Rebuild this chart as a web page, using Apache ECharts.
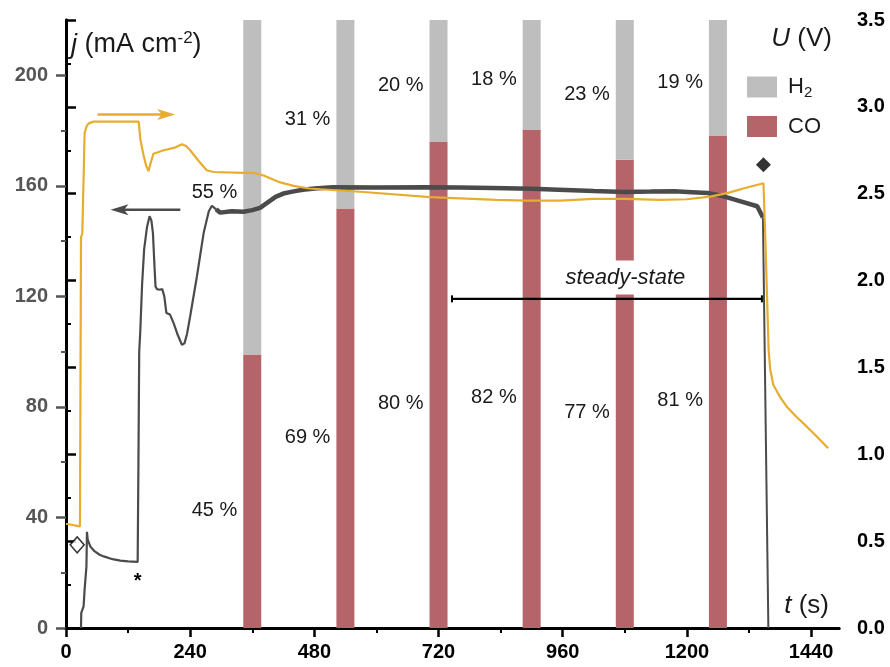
<!DOCTYPE html>
<html><head><meta charset="utf-8">
<script src="https://cdn.jsdelivr.net/npm/echarts@6/dist/echarts.min.js"></script>
<style>html,body{margin:0;padding:0;background:#fff}#c{width:890px;height:667px}</style>
</head><body><div id="c"></div>
<script>
// ---------- data ----------
const timeTicks = [0, 240, 480, 720, 960, 1200, 1440];
const timeMinorTicks = [120, 360, 600, 840, 1080, 1320];
const currentTicks = [0, 40, 80, 120, 160, 200];
const currentMinorTicks = [20, 60, 100, 140, 180];
const barTimes = [360, 540, 720, 900, 1080, 1260];
const coPercent = [45, 69, 80, 82, 77, 81];
const h2Percent = [55, 31, 20, 18, 23, 19];
const currentDensity = [
  [29,0],[29.5,5.5],[34,7.8],[36,14],[39.5,22.3],[40.5,34.8],[42,32],[44,31.3],[47,29.5],[55,27.8],[65,26.5],
  [73,25.9],[90,24.9],[105,24.4],[120,24.1],[138.5,23.9],[140,60],[141.5,100],[143.5,107],[147,124],[151,137],
  [156.5,145],[161.5,149],[165,147.5],[168,143],[171,131],[173,123.6],[176,122.6],[181,122.4],[186,122.6],
  [190,120],[194,114],[201,113.4],[208,110.3],[216,106],[224,102.5],[229,103],[234,106.5],[240,112.8],
  [253,127.2],[266,142.9],[276,150.8],[282,152.8],[290,151.5],[298,150.3],[320,150.8],[343,150.6],[360,151.2],
  [375,152],[390,154],[405,156],[420,157.2],[440,158],[458,158.6],[480,159],[516,159.5],[600,159.4],[696,159.5],
  [760,159.4],[823,159.2],[900,158.9],[952,158.6],[1020,158.1],[1080,157.8],[1130,157.9],[1176,158],[1210,157.7],
  [1240,157.4],[1271,156.2],[1304,154.4],[1336,152.6],[1347,148.5],[1357.5,0]
];
const cellVoltage = [
  [0,0.60],[27,0.585],[28.5,0.585],[29,2.25],[31.5,2.27],[33,2.46],[36,2.85],[40,2.89],[44,2.905],[53,2.915],
  [100,2.915],[140.5,2.915],[143.8,2.81],[150,2.72],[155,2.66],[159.5,2.63],[162,2.66],[166,2.70],[169,2.73],
  [189,2.75],[210,2.765],[224,2.785],[232,2.775],[240,2.75],[256,2.69],[272,2.635],[285,2.625],[343,2.62],
  [362,2.62],[382,2.605],[414,2.565],[440,2.545],[470,2.53],[575,2.51],[704,2.48],[832,2.464],[890,2.46],
  [955,2.46],[1019,2.47],[1080,2.47],[1148,2.464],[1200,2.468],[1245,2.483],[1280,2.505],[1309,2.53],[1348,2.56],
  [1351,2.3],[1355,1.9],[1358,1.6],[1361,1.49],[1367,1.40],[1380,1.33],[1393,1.274],[1412,1.215],[1432,1.159],
  [1452,1.10],[1473,1.035]
];
const openDiamond = [[21.6, 30.1]];
const filledDiamond = [[1348, 167.6]];

// ---------- styling ----------
const FONT = 'Liberation Sans, Arial, sans-serif';
const GOLD = '#E6AD2E';
const DARK = '#4B4B4B';
const AXGRAY = '#555555';
const CO_COLOR = '#B5656A';
const H2_COLOR = '#BEBEBE';
const X_MAX = 1494;
const BAR_W = 18;

const chart = echarts.init(document.getElementById('c'), null, {renderer: 'canvas'});

const tickLabel = (color) => ({fontFamily: FONT, fontSize: 20, fontWeight: 'bold', color: color});

const thin1 = currentDensity.filter(p => p[0] <= 290);
const thick = currentDensity.filter(p => p[0] >= 290 && p[0] <= 1347);
const thin2 = currentDensity.filter(p => p[0] >= 1347);

// stacked selectivity bar segment: value = [t, base, share]
function segment(color, dy) {
  return function (params, api) {
    const t = api.value(0), b = api.value(1), s = api.value(2);
    const p0 = api.coord([t, b]), p1 = api.coord([t, b + s]);
    return {type: 'group', children: [
      {type: 'rect', shape: {x: p0[0] - BAR_W / 2, y: p1[1], width: BAR_W, height: p0[1] - p1[1]}, style: {fill: color}},
      {type: 'text', x: p0[0] - BAR_W / 2 - 6, y: (p0[1] + p1[1]) / 2 + dy,
       style: {text: s + ' %', font: '20px ' + FONT, fill: '#1a1a1a', align: 'right', verticalAlign: 'middle'}}
    ]};
  };
}

const option = {
  animation: false,
  backgroundColor: '#fff',
  grid: {left: 66, right: 51, top: 20, bottom: 39, containLabel: false},
  legend: {
    data: ['H2', 'CO'], orient: 'vertical', left: 747, top: 76, itemWidth: 30, itemHeight: 21, itemGap: 15,
    icon: 'rect', padding: 0,
    formatter: n => n === 'H2' ? 'H{sub|2}' : n,
    textStyle: {fontFamily: FONT, fontSize: 22, color: '#1a1a1a', padding: [0, 0, 0, 6],
      rich: {sub: {fontFamily: FONT, fontSize: 15, color: '#1a1a1a', padding: [12, 0, 0, 0]}}}
  },
  xAxis: [
    {type: 'value', min: 0, max: X_MAX, position: 'bottom', splitLine: {show: false},
     axisLine: {show: true, lineStyle: {color: '#000', width: 3}},
     axisTick: {show: true, customValues: timeMinorTicks, length: 5, lineStyle: {color: '#000', width: 2}},
     axisLabel: {show: true, customValues: timeTicks, margin: 14, formatter: v => String(v), ...tickLabel('#000')}},
    {type: 'value', min: 0, max: X_MAX, position: 'bottom', splitLine: {show: false},
     axisLine: {show: false},
     axisTick: {show: true, customValues: timeTicks, length: 9, lineStyle: {color: '#000', width: 2.5}},
     axisLabel: {show: false}},
    {type: 'value', min: 0, max: X_MAX, position: 'top', splitLine: {show: false},
     axisLine: {show: true, lineStyle: {color: '#000', width: 3}},
     axisTick: {show: false}, axisLabel: {show: false}}
  ],
  yAxis: [
    {type: 'value', min: 0, max: 220, position: 'left', splitLine: {show: false},
     axisLine: {show: true, lineStyle: {color: AXGRAY, width: 3}},
     axisTick: {show: true, customValues: currentMinorTicks, length: 5, lineStyle: {color: AXGRAY, width: 2}},
     axisLabel: {show: true, customValues: currentTicks, margin: 18, formatter: v => String(v), ...tickLabel(AXGRAY)}},
    {type: 'value', min: 0, max: 3.5, interval: 0.5, position: 'right', splitLine: {show: false},
     axisLine: {show: true, lineStyle: {color: '#000', width: 3}},
     axisTick: {show: true, length: 10, lineStyle: {color: '#000', width: 2.5}},
     minorTick: {show: true, splitNumber: 2, length: 5, lineStyle: {color: '#000', width: 2}},
     axisLabel: {show: true, margin: 18, formatter: v => v.toFixed(1), ...tickLabel('#000')}},
    {type: 'value', min: 0, max: 100, show: false},
    {type: 'value', min: 0, max: 220, position: 'left', splitLine: {show: false},
     axisLine: {show: false},
     axisTick: {show: true, customValues: currentTicks, length: 10, lineStyle: {color: AXGRAY, width: 2.5}},
     axisLabel: {show: false}}
  ],
  series: [
    {name: 'CO', type: 'custom', coordinateSystem: 'cartesian2d', xAxisIndex: 0, yAxisIndex: 2, z: 1,
     data: barTimes.map((t, i) => [t, 0, coPercent[i]]), encode: {x: 0, y: 2},
     itemStyle: {color: CO_COLOR}, renderItem: segment(CO_COLOR, 19)},
    {name: 'H2', type: 'custom', coordinateSystem: 'cartesian2d', xAxisIndex: 0, yAxisIndex: 2, z: 1,
     data: barTimes.map((t, i) => [t, coPercent[i], h2Percent[i]]), encode: {x: 0, y: 2},
     itemStyle: {color: H2_COLOR}, renderItem: segment(H2_COLOR, 5)},
    {name: 'j1', type: 'line', xAxisIndex: 0, yAxisIndex: 0, data: thin1, showSymbol: false, z: 3,
     lineStyle: {color: DARK, width: 2.2}},
    {name: 'j2', type: 'line', xAxisIndex: 0, yAxisIndex: 0, data: thick, showSymbol: false, z: 3,
     lineStyle: {color: DARK, width: 4.5}},
    {name: 'j3', type: 'line', xAxisIndex: 0, yAxisIndex: 0, data: thin2, showSymbol: false, z: 3,
     lineStyle: {color: DARK, width: 2}},
    {name: 'U', type: 'line', xAxisIndex: 0, yAxisIndex: 1, data: cellVoltage, showSymbol: false, z: 4,
     lineStyle: {color: GOLD, width: 2.2}},
    {name: 'start', type: 'scatter', xAxisIndex: 0, yAxisIndex: 0, data: openDiamond, symbol: 'diamond',
     symbolSize: [14, 16], z: 5, itemStyle: {color: '#fff', borderColor: '#000', borderWidth: 1.5}},
    {name: 'end', type: 'scatter', xAxisIndex: 0, yAxisIndex: 0, data: filledDiamond, symbol: 'diamond',
     symbolSize: [15, 15], z: 5, itemStyle: {color: '#000'}}
  ]
};
chart.setOption(option);

// ---------- annotations (data coordinates) ----------
const P = (t, j) => chart.convertToPixel({xAxisIndex: 0, yAxisIndex: 0}, [t, j]);
const steadyStart = 746, steadyEnd = 1345, steadyLevel = 119.1;
const steadyTextAt = [1081, 126.8];
const goldArrow = {from: [61, 185.8], to: [211, 185.8]};
const darkArrow = {from: [221, 151.3], to: [86, 151.3]};
const starAt = [138.6, 18.7];

function arrow(a, color) {
  const p0 = P(a.from[0], a.from[1]), p1 = P(a.to[0], a.to[1]);
  const dir = Math.sign(p1[0] - p0[0]);
  const hl = 18, hw = 5.5;
  return [
    {type: 'line', z: 10, shape: {x1: p0[0], y1: p0[1], x2: p1[0] - dir * hl * 0.6, y2: p1[1]},
     style: {stroke: color, lineWidth: 2.5}},
    {type: 'polygon', z: 10, shape: {points: [[p1[0], p1[1]], [p1[0] - dir * hl, p1[1] - hw], [p1[0] - dir * hl * 0.75, p1[1]], [p1[0] - dir * hl, p1[1] + hw]]},
     style: {fill: color}}
  ];
}

const s0 = P(steadyStart, steadyLevel), s1 = P(steadyEnd, steadyLevel);
const st = P(steadyTextAt[0], steadyTextAt[1]);
const star = P(starAt[0], starAt[1]);
const jLab = [71, 45], uLab = [832, 39], tLab = [829, 606];

chart.setOption({graphic: [
  {type: 'text', z: 10, x: st[0], y: st[1], style: {text: 'steady-state', font: 'italic 22px ' + FONT, fill: '#1a1a1a',
    align: 'center', verticalAlign: 'middle', backgroundColor: '#fff', padding: [6, 4, 6, 4]}},
  {type: 'line', z: 11, shape: {x1: s0[0], y1: s0[1], x2: s1[0], y2: s1[1]}, style: {stroke: '#000', lineWidth: 2.2}},
  {type: 'line', z: 11, shape: {x1: s0[0], y1: s0[1] - 3.5, x2: s0[0], y2: s0[1] + 3.5}, style: {stroke: '#000', lineWidth: 2}},
  {type: 'line', z: 11, shape: {x1: s1[0], y1: s1[1] - 3.5, x2: s1[0], y2: s1[1] + 3.5}, style: {stroke: '#000', lineWidth: 2}},
  ...arrow(goldArrow, GOLD),
  ...arrow(darkArrow, DARK),
  {type: 'text', z: 10, x: star[0], y: star[1] + 5, style: {text: '*', font: 'bold 20px ' + FONT, fill: '#000', align: 'center', verticalAlign: 'middle'}},
  {type: 'text', z: 10, x: jLab[0], y: jLab[1], style: {
    text: '{it|j} (mA cm{sup|-2})', font: '27px ' + FONT, fill: '#1a1a1a', align: 'left', verticalAlign: 'middle',
    rich: {it: {font: 'italic 27px ' + FONT, fill: '#1a1a1a'}, sup: {font: '17px ' + FONT, fill: '#1a1a1a', padding: [0, 0, 13, 0]}}}},
  {type: 'text', z: 10, x: uLab[0], y: uLab[1], style: {
    text: '{it|U} (V)', font: '26px ' + FONT, fill: '#1a1a1a', align: 'right', verticalAlign: 'middle',
    rich: {it: {font: 'italic 26px ' + FONT, fill: '#1a1a1a'}}}},
  {type: 'text', z: 10, x: tLab[0], y: tLab[1], style: {
    text: '{it|t} (s)', font: '26px ' + FONT, fill: '#1a1a1a', align: 'right', verticalAlign: 'middle',
    rich: {it: {font: 'italic 26px ' + FONT, fill: '#1a1a1a'}}}}
]});
</script></body></html>
